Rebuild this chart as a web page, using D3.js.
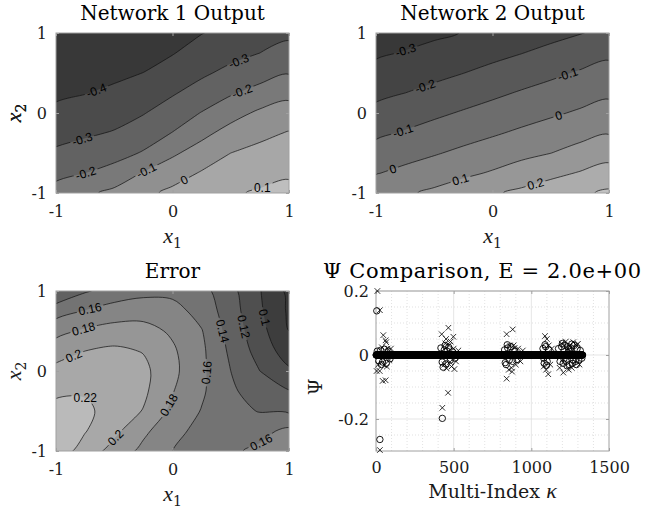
<!DOCTYPE html>
<html>
<head>
<meta charset="utf-8">
<script src="https://cdn.jsdelivr.net/npm/d3@7"></script>
<style>
  body { margin: 0; background: #fff; }
  svg { display: block; }
</style>
</head>
<body>
<svg id="fig" width="645" height="515"></svg>
<script>
// sample grid of the three surfaces
const gridX = [-1, -0.75, -0.5, -0.25, 0, 0.25, 0.5, 0.75, 1];
const gridY = [-1, -0.75, -0.5, -0.25, 0, 0.25, 0.5, 0.75, 1];

// one row per x2 value, from x2 = -1 up to x2 = 1
const net1Out = [
  [-0.165, -0.120, -0.077, -0.027,  0.023,  0.065,  0.089,  0.110,  0.127],
  [-0.225, -0.201, -0.163, -0.094, -0.045,  0.008,  0.045,  0.068,  0.087],
  [-0.285, -0.260, -0.236, -0.192, -0.115, -0.058,  0.000,  0.026,  0.047],
  [-0.333, -0.314, -0.293, -0.251, -0.197, -0.126, -0.065, -0.023,  0.006],
  [-0.378, -0.359, -0.338, -0.305, -0.254, -0.196, -0.136, -0.083, -0.056],
  [-0.418, -0.403, -0.382, -0.352, -0.309, -0.260, -0.210, -0.166, -0.127],
  [-0.450, -0.435, -0.420, -0.399, -0.358, -0.316, -0.274, -0.239, -0.205],
  [-0.468, -0.458, -0.445, -0.435, -0.405, -0.360, -0.330, -0.300, -0.264],
  [-0.480, -0.472, -0.462, -0.455, -0.443, -0.403, -0.370, -0.350, -0.322]
];

const net2Out = [
  [ 0.057,  0.086,  0.118,  0.155,  0.188,  0.220,  0.251,  0.283,  0.316],
  [-0.005,  0.024,  0.052,  0.080,  0.109,  0.144,  0.176,  0.206,  0.238],
  [-0.062, -0.034, -0.008,  0.020,  0.047,  0.075,  0.099,  0.134,  0.164],
  [-0.118, -0.091, -0.063, -0.037, -0.011,  0.016,  0.043,  0.069,  0.095],
  [-0.173, -0.146, -0.118, -0.091, -0.064, -0.039, -0.014,  0.012,  0.038],
  [-0.223, -0.200, -0.174, -0.146, -0.119, -0.091, -0.066, -0.041, -0.017],
  [-0.269, -0.247, -0.225, -0.201, -0.174, -0.147, -0.119, -0.091, -0.067],
  [-0.314, -0.294, -0.272, -0.249, -0.226, -0.202, -0.175, -0.147, -0.119],
  [-0.355, -0.337, -0.317, -0.297, -0.275, -0.252, -0.228, -0.204, -0.176]
];

const errOut = [
  [0.231, 0.212, 0.192, 0.175, 0.160, 0.151, 0.157, 0.164, 0.175],
  [0.229, 0.221, 0.205, 0.184, 0.167, 0.153, 0.149, 0.154, 0.165],
  [0.225, 0.224, 0.212, 0.199, 0.175, 0.159, 0.146, 0.139, 0.137],
  [0.217, 0.218, 0.215, 0.204, 0.181, 0.163, 0.143, 0.131, 0.121],
  [0.206, 0.209, 0.211, 0.205, 0.185, 0.164, 0.140, 0.120, 0.103],
  [0.191, 0.200, 0.204, 0.199, 0.183, 0.164, 0.136, 0.112, 0.090],
  [0.174, 0.183, 0.188, 0.187, 0.177, 0.161, 0.132, 0.107, 0.080],
  [0.151, 0.161, 0.169, 0.172, 0.167, 0.153, 0.129, 0.103, 0.077],
  [0.121, 0.138, 0.148, 0.154, 0.155, 0.147, 0.126, 0.101, 0.075]
];

const net1Levels = [-0.4, -0.3, -0.2, -0.1, 0, 0.1];
const net2Levels = [-0.3, -0.2, -0.1, 0, 0.1, 0.2, 0.3];
const errLevels = [0.08, 0.1, 0.12, 0.14, 0.16, 0.18, 0.2, 0.22];

// where the contour labels sit: [level, x1, x2]
const net1Labels = [[-0.4, -0.65, 0.27], [-0.3, -0.77, -0.35], [-0.2, -0.75, -0.73],
  [-0.1, -0.22, -0.73], [0, 0.11, -0.86], [0.1, 0.77, -0.93], [-0.3, 0.55, 0.72], [-0.2, 0.59, 0.30]];
const net2Labels = [[-0.3, -0.74, 0.76], [-0.2, -0.57, 0.30], [-0.1, -0.76, -0.26], [0, -0.85, -0.72],
  [0.1, -0.27, -0.85], [0.2, 0.37, -0.89], [-0.1, 0.65, 0.47], [0, 0.56, 0.0]];
const errLabels = [[0.16, -0.71, 0.79], [0.18, -0.76, 0.51], [0.2, -0.85, 0.20], [0.22, -0.72, -0.23],
  [0.2, -0.49, -0.83], [0.18, -0.04, -0.42], [0.16, 0.28, -0.02], [0.14, 0.43, 0.50],
  [0.12, 0.63, 0.56], [0.1, 0.79, 0.67], [0.16, 0.74, -0.85]];

const contourTicks = [-1, 0, 1];

// Psi comparison: indices 1..1330 all sit on ~0, plus the spread-out ones
const psiZeroRun = [1, 1330];
const psiCircles = [
  [5, 0.138], [25, -0.264], [427, -0.198],
  [8, 0.012], [18, -0.018], [30, 0.015], [42, -0.022], [55, 0.018], [66, -0.026], [78, 0.012], [90, -0.012], [35, -0.03],
  [418, 0.022], [426, -0.022], [432, -0.038], [440, 0.016], [450, -0.028], [458, 0.012], [468, 0.024],
  [478, -0.016], [492, 0.01], [508, -0.01], [445, 0.03],
  [828, 0.016], [838, -0.03], [848, 0.022], [858, -0.016], [868, 0.026], [880, -0.02], [894, 0.012],
  [908, -0.014], [845, 0.032], [832, -0.024],
  [1075, 0.02], [1083, -0.026], [1092, 0.026], [1102, -0.02], [1112, 0.016], [1088, 0.032], [1098, -0.032], [1080, -0.01],
  [1175, 0.02], [1185, -0.02], [1195, 0.026], [1205, -0.026], [1215, 0.03], [1225, -0.02], [1235, 0.026],
  [1245, -0.03], [1255, 0.022], [1265, -0.026], [1275, 0.03], [1285, -0.02], [1295, 0.02], [1305, -0.016],
  [1315, 0.014], [1325, -0.01], [1200, 0.036], [1230, -0.034], [1260, 0.034], [1290, -0.03], [1250, 0.012],
  [1210, -0.012], [1240, 0.02], [1270, -0.016]
];
const psiCrosses = [
  [9, 0.2], [25, 0.14], [47, 0.062], [62, 0.046], [66, 0.04], [4, -0.05], [24, -0.05], [43, -0.081],
  [62, -0.079], [25, -0.297], [14, -0.03], [38, 0.024], [54, -0.032], [74, 0.02], [86, -0.016], [96, 0.02], [70, -0.036],
  [423, 0.065], [466, 0.085], [451, 0.05], [480, 0.042], [498, 0.057], [464, -0.118], [427, -0.165],
  [440, -0.03], [455, -0.042], [470, 0.03], [486, -0.036], [500, 0.02], [515, -0.02], [530, 0.014],
  [446, 0.036], [476, -0.022], [505, -0.044],
  [841, 0.065], [880, 0.08], [841, -0.074], [855, -0.046], [872, -0.04], [886, 0.03], [900, -0.03],
  [915, 0.02], [930, -0.02], [945, 0.014], [892, 0.022], [876, -0.052], [862, 0.03],
  [1088, 0.059], [1100, 0.05], [1109, -0.06], [1080, -0.036], [1095, -0.046], [1112, 0.03], [1122, -0.03], [1132, 0.02],
  [1195, 0.036], [1206, -0.055], [1182, -0.04], [1222, 0.042], [1240, -0.046], [1270, 0.04], [1290, 0.03],
  [1310, -0.03], [1260, -0.04], [1232, 0.02], [1300, 0.035]
];
const psiXTicks = [0, 500, 1000, 1500];
const psiYTicks = [-0.2, 0, 0.2];

const serif = '"DejaVu Serif", serif';
const mathIt = '"Liberation Serif", serif';
const sans = '"Liberation Sans", Arial, sans-serif';
const axisGray = "#a0a0a0";
const ink = "#1a1a1a";

const svg = d3.select("#fig");
const defs = svg.append("defs");

function styleAxis(a) {
  a.select(".domain").remove();
  a.selectAll(".tick line").attr("stroke", axisGray);
  a.attr("font-family", serif).attr("font-size", 16);
  a.selectAll("text").attr("fill", ink);
}

function subLabel(parent, x, y, letter, sub, rotate) {
  const t = parent.append("text")
    .attr("transform", `translate(${x},${y})` + (rotate ? " rotate(-90)" : ""))
    .attr("text-anchor", "middle")
    .attr("fill", ink);
  t.append("tspan").attr("font-family", mathIt).attr("font-style", "italic").attr("font-size", 22).text(letter);
  t.append("tspan").attr("font-family", serif).attr("font-size", 14).attr("dy", 5).text(sub);
}

function drawContour(box, values, levels, labels, title, id) {
  const g = svg.append("g");
  const x = d3.scaleLinear().domain([-1, 1]).range([box.x, box.x + box.w]);
  const y = d3.scaleLinear().domain([-1, 1]).range([box.y + box.h, box.y]);
  const n = gridX.length, m = gridY.length;
  const flat = values.flat();
  const [zmin, zmax] = d3.extent(flat);
  const shade = v => {
    const c = Math.round(255 * (0.22 + 0.55 * (v - zmin) / (zmax - zmin)));
    return `rgb(${c},${c},${c})`;
  };

  // value i of the grid sits at contour coordinate i + 0.5
  const cx = d3.scaleLinear().domain([0.5, n - 0.5]).range([x(gridX[0]), x(gridX[n - 1])]);
  const cy = d3.scaleLinear().domain([0.5, m - 0.5]).range([y(gridY[0]), y(gridY[m - 1])]);

  const contours = d3.contours().size([n, m]).thresholds(levels)(flat);
  const smooth = d3.line().curve(d3.curveCatmullRomClosed.alpha(0.5));
  const ringPath = ring => smooth(ring.slice(0, -1).map(p => [cx(p[0]), cy(p[1])]));
  const geoPath = c => c.coordinates.map(poly => poly.map(ringPath).join("")).join("");

  defs.append("clipPath").attr("id", id + "-clip")
    .append("rect").attr("x", box.x).attr("y", box.y).attr("width", box.w).attr("height", box.h);
  const mask = defs.append("mask").attr("id", id + "-mask").attr("maskUnits", "userSpaceOnUse")
    .attr("x", 0).attr("y", 0).attr("width", 645).attr("height", 515);
  mask.append("rect").attr("width", 645).attr("height", 515).attr("fill", "#fff");

  const body = g.append("g").attr("clip-path", `url(#${id}-clip)`);
  body.append("rect").attr("x", box.x).attr("y", box.y).attr("width", box.w).attr("height", box.h)
    .attr("fill", shade(zmin));
  body.selectAll("path.band").data(contours).join("path")
    .attr("class", "band")
    .attr("d", geoPath)
    .attr("fill-rule", "evenodd")
    .attr("fill", d => shade(d.value));
  body.append("g").attr("mask", `url(#${id}-mask)`)
    .selectAll("path").data(contours).join("path")
    .attr("d", geoPath)
    .attr("fill", "none")
    .attr("stroke", "#111")
    .attr("stroke-width", 0.7);

  // labels: snap each to the nearest piece of its contour
  const inside = p => p[0] >= box.x - 0.5 && p[0] <= box.x + box.w + 0.5 && p[1] >= box.y - 0.5 && p[1] <= box.y + box.h + 0.5;
  const labelG = g.append("g");
  labels.forEach(([lv, lx, ly]) => {
    const c = contours.find(d => Math.abs(d.value - lv) < 1e-9);
    if (!c) return;
    const tx = x(lx), ty = y(ly);
    let best = null;
    c.coordinates.forEach(poly => poly.forEach(ring => {
      const pts = ring.map(p => [cx(p[0]), cy(p[1])]);
      for (let i = 0; i < pts.length - 1; i++) {
        const a = pts[i], b = pts[i + 1];
        if (!inside(a) || !inside(b)) continue;
        const dx = b[0] - a[0], dy = b[1] - a[1];
        const l2 = dx * dx + dy * dy;
        if (!l2) continue;
        const t = Math.max(0, Math.min(1, ((tx - a[0]) * dx + (ty - a[1]) * dy) / l2));
        const px = a[0] + t * dx, py = a[1] + t * dy;
        const d2 = (px - tx) ** 2 + (py - ty) ** 2;
        if (!best || d2 < best.d2) {
          const a2 = pts[Math.max(i - 1, 0)], b2 = pts[Math.min(i + 2, pts.length - 1)];
          best = { d2, px, py, ang: Math.atan2(b2[1] - a2[1], b2[0] - a2[0]) * 180 / Math.PI };
        }
      }
    }));
    if (!best) return;
    let ang = best.ang;
    if (ang > 90) ang -= 180;
    if (ang <= -90) ang += 180;
    const tf = `translate(${best.px},${best.py}) rotate(${ang})`;
    const txt = labelG.append("text")
      .attr("transform", tf)
      .attr("text-anchor", "middle")
      .attr("dy", "0.36em")
      .attr("font-family", sans)
      .attr("font-size", 12)
      .attr("fill", "#000")
      .text(String(lv));
    const w = txt.node().getComputedTextLength();
    mask.append("rect").attr("transform", tf)
      .attr("x", -w / 2 - 2).attr("y", -6).attr("width", w + 4).attr("height", 12)
      .attr("fill", "#000");
  });

  // box + ticks
  g.append("g").attr("transform", `translate(0,${box.y + box.h})`)
    .call(d3.axisBottom(x).tickValues(contourTicks).tickFormat(d => String(d)).tickSizeInner(-3).tickSizeOuter(0).tickPadding(13))
    .call(styleAxis);
  g.append("g").attr("transform", `translate(0,${box.y})`)
    .call(d3.axisTop(x).tickValues(contourTicks).tickFormat("").tickSizeInner(-3).tickSizeOuter(0))
    .call(styleAxis);
  g.append("g").attr("transform", `translate(${box.x},0)`)
    .call(d3.axisLeft(y).tickValues(contourTicks).tickFormat(d => String(d)).tickSizeInner(-3).tickSizeOuter(0).tickPadding(9))
    .call(styleAxis);
  g.append("g").attr("transform", `translate(${box.x + box.w},0)`)
    .call(d3.axisRight(y).tickValues(contourTicks).tickFormat("").tickSizeInner(-3).tickSizeOuter(0))
    .call(styleAxis);
  g.append("rect").attr("x", box.x).attr("y", box.y).attr("width", box.w).attr("height", box.h)
    .attr("fill", "none").attr("stroke", axisGray).attr("stroke-width", 1);

  g.append("text").attr("x", box.x + box.w / 2).attr("y", box.y - 13)
    .attr("text-anchor", "middle").attr("font-family", serif).attr("font-size", 20)
    .attr("fill", "#000").text(title);
  subLabel(g, box.x + box.w / 2, box.y + box.h + 50, "x", "1", false);
  subLabel(g, 21, box.y + box.h / 2, "x", "2", true);
}

drawContour({ x: 56, y: 33, w: 233, h: 160 }, net1Out, net1Levels, net1Labels, "Network 1 Output", "n1");
drawContour({ x: 376, y: 33, w: 233, h: 160 }, net2Out, net2Levels, net2Labels, "Network 2 Output", "n2");
drawContour({ x: 56, y: 291, w: 233, h: 160 }, errOut, errLevels, errLabels, "Error", "er");

// ---------------- Psi comparison ----------------
{
  const box = { x: 376, y: 291, w: 233, h: 160 };
  const g = svg.append("g");
  const kx = d3.scaleLinear().domain([0, 1500]).range([box.x, box.x + box.w]);
  const py = d3.scaleLinear().domain([-0.3, 0.2]).range([box.y + box.h, box.y]);

  // minor (dotted) and major grid
  const minorK = d3.range(100, 1500, 100).filter(k => !psiXTicks.includes(k));
  const minorV = d3.range(-0.25, 0.2, 0.05).filter(v => !psiYTicks.some(t => Math.abs(t - v) < 1e-9));
  g.selectAll("line.mk").data(minorK).join("line")
    .attr("x1", d => kx(d)).attr("x2", d => kx(d)).attr("y1", box.y).attr("y2", box.y + box.h)
    .attr("stroke", "#cfcfcf").attr("stroke-width", 0.6).attr("stroke-dasharray", "1,2");
  g.selectAll("line.mv").data(minorV).join("line")
    .attr("y1", d => py(d)).attr("y2", d => py(d)).attr("x1", box.x).attr("x2", box.x + box.w)
    .attr("stroke", "#cfcfcf").attr("stroke-width", 0.6).attr("stroke-dasharray", "1,2");
  g.selectAll("line.gk").data(psiXTicks.slice(1, -1)).join("line")
    .attr("x1", d => kx(d)).attr("x2", d => kx(d)).attr("y1", box.y).attr("y2", box.y + box.h)
    .attr("stroke", "#dedede").attr("stroke-width", 0.8);
  g.selectAll("line.gv").data(psiYTicks).join("line")
    .attr("y1", d => py(d)).attr("y2", d => py(d)).attr("x1", box.x).attr("x2", box.x + box.w)
    .attr("stroke", "#dedede").attr("stroke-width", 0.8);

  g.append("g").attr("transform", `translate(0,${box.y + box.h})`)
    .call(d3.axisBottom(kx).tickValues(psiXTicks).tickFormat(d => String(d)).tickSizeInner(-3).tickSizeOuter(0).tickPadding(11))
    .call(styleAxis);
  g.append("g").attr("transform", `translate(0,${box.y})`)
    .call(d3.axisTop(kx).tickValues(psiXTicks).tickFormat("").tickSizeInner(-3).tickSizeOuter(0))
    .call(styleAxis);
  g.append("g").attr("transform", `translate(${box.x},0)`)
    .call(d3.axisLeft(py).tickValues(psiYTicks).tickFormat(d => String(d)).tickSizeInner(-3).tickSizeOuter(0).tickPadding(7))
    .call(styleAxis);
  g.append("g").attr("transform", `translate(${box.x + box.w},0)`)
    .call(d3.axisRight(py).tickValues(psiYTicks).tickFormat("").tickSizeInner(-3).tickSizeOuter(0))
    .call(styleAxis);
  g.append("rect").attr("x", box.x).attr("y", box.y).attr("width", box.w).attr("height", box.h)
    .attr("fill", "none").attr("stroke", axisGray).attr("stroke-width", 1);

  const zeroPts = d3.range(psiZeroRun[0], psiZeroRun[1] + 1).map(k => [k, 0]);
  const pts = g.append("g");
  pts.selectAll("circle.z").data(zeroPts).join("circle")
    .attr("cx", d => kx(d[0])).attr("cy", d => py(d[1])).attr("r", 3.2)
    .attr("fill", "none").attr("stroke", "#000").attr("stroke-width", 0.9);
  pts.selectAll("circle.o").data(psiCircles).join("circle")
    .attr("cx", d => kx(d[0])).attr("cy", d => py(d[1])).attr("r", 3.2)
    .attr("fill", "none").attr("stroke", "#000").attr("stroke-width", 0.9);
  pts.selectAll("path.x").data(psiCrosses).join("path")
    .attr("transform", d => `translate(${kx(d[0])},${py(d[1])})`)
    .attr("d", "M-2.8,-2.8L2.8,2.8M-2.8,2.8L2.8,-2.8")
    .attr("stroke", "#000").attr("stroke-width", 0.8);

  g.append("text").attr("x", 323).attr("y", box.y - 13)
    .attr("textLength", 318).attr("lengthAdjust", "spacing")
    .attr("font-family", serif).attr("font-size", 21).attr("fill", "#000")
    .text("Ψ Comparison, E = 2.0e+00");
  const xl = g.append("text").attr("x", box.x + box.w / 2).attr("y", box.y + box.h + 47)
    .attr("text-anchor", "middle").attr("font-family", serif).attr("font-size", 19).attr("fill", ink);
  xl.append("tspan").text("Multi-Index ");
  xl.append("tspan").attr("font-family", mathIt).attr("font-style", "italic").attr("font-size", 22).text("κ");
  g.append("text").attr("transform", `translate(322,${box.y + box.h / 2 + 16}) rotate(-90)`)
    .attr("text-anchor", "middle").attr("font-family", serif).attr("font-size", 19).attr("fill", ink)
    .text("Ψ");
}
</script>
</body>
</html>
